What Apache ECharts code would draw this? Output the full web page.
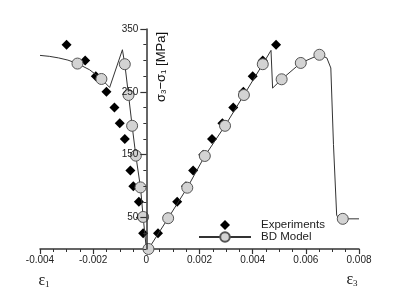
<!DOCTYPE html>
<html>
<head>
<meta charset="utf-8">
<script src="https://cdn.jsdelivr.net/npm/echarts@6/dist/echarts.min.js"></script>
<style>html,body{margin:0;padding:0;background:#fff}#c{width:399px;height:290px}</style>
</head>
<body>
<div id="c"></div>
<script>
// Experiments: stress levels, lateral strain (eps1, left branch) and axial strain (eps3, right branch)
const expStress = [325, 300, 275, 250, 225, 200, 175, 150, 125, 100, 75, 50, 25];
const expEps1 = [-0.0030, -0.0023, -0.0019, -0.0015, -0.0012, -0.0010, -0.00081, null, -0.00060, -0.00049, -0.00028, -0.00020, -0.00012];
const expEps3 = [0.00488, 0.00438, 0.00400, 0.00365, 0.00327, 0.00286, 0.00247, 0.00214, 0.00176, 0.00149, 0.00116, 0.00081, 0.00044];

// BD model curve (one polyline); modelMarker = 1 where a circle marker is drawn
const modelStrain = [-0.0040, -0.00365, -0.00330, -0.00295, -0.00259, -0.00213, -0.00169, -0.00138, -0.00090, -0.00081, -0.00067, -0.000535, -0.000395, -0.00022, -0.00012, 0.0, 0.00008, 0.00082, 0.00154, 0.00220, 0.00296, 0.00367, 0.00438, 0.00469, 0.00475, 0.00509, 0.00581, 0.00651, 0.00679, 0.00694, 0.00704, 0.00716, 0.00722, 0.00739, 0.0080];
const modelStress = [308, 306.5, 304, 300.5, 295, 285, 270.5, 257, 317, 294, 245, 196, 148.5, 98, 51, 0, 0, 49, 97.5, 148, 196, 245, 294, 316, 256, 270, 296, 309, 304, 288, 166, 54, 49, 48, 48];
const modelMarker = [0, 0, 0, 0, 1, 0, 1, 0, 0, 1, 1, 1, 1, 1, 1, 0, 1, 1, 1, 1, 1, 1, 1, 0, 0, 1, 1, 1, 0, 0, 0, 0, 0, 1, 0];

// Axis ticks
const xMin = -0.004, xMax = 0.008, xTickStep = 0.002;
const yMin = 0, yMax = 350;
const yLabelValues = [50, 150, 250, 350];
const yMinorValues = [0, 25, 50, 75, 100, 125, 150, 175, 200, 225, 250, 275, 300, 325, 350];

const expData = [];
expStress.forEach((s, i) => { if (expEps1[i] !== null) expData.push([expEps1[i], s]); });
expStress.forEach((s, i) => { if (expEps3[i] !== null) expData.push([expEps3[i], s]); });

const modelData = modelStrain.map((x, i) => modelMarker[i]
  ? { value: [x, modelStress[i]] }
  : { value: [x, modelStress[i]], symbol: 'none' });

// plot frame
const W = 399, H = 290, gl = 40, gr = 40, gt = 29, gb = 41;
const zeroX = gl + (0 - xMin) / (xMax - xMin) * (W - gl - gr);

const axisColor = '#333';
const labelFont = { fontFamily: 'Liberation Sans, Arial, sans-serif', fontSize: 10, color: '#222' };

const chart = echarts.init(document.getElementById('c'), null, { renderer: 'canvas' });
chart.setOption({
  animation: false,
  backgroundColor: '#fff',
  grid: [
    { left: gl, right: gr, top: gt, bottom: gb, containLabel: false },
    { left: zeroX, width: 10, top: gt, bottom: gb, containLabel: false }
  ],
  xAxis: [
    {
      gridIndex: 0, type: 'value', min: xMin, max: xMax, interval: xTickStep,
      axisLine: { show: true, onZero: false, lineStyle: { color: axisColor, width: 1.5 } },
      axisTick: { show: true, length: 5, lineStyle: { color: axisColor, width: 1.2 } },
      minorTick: { show: true, splitNumber: 4, length: 3, lineStyle: { color: axisColor, width: 1 } },
      splitLine: { show: false },
      axisLabel: Object.assign({ margin: 6, formatter: v => Math.abs(v) < 1e-12 ? '0' : v.toFixed(3) }, labelFont)
    },
    { gridIndex: 1, type: 'value', min: 0, max: 1, show: false }
  ],
  yAxis: [
    { gridIndex: 0, type: 'value', min: yMin, max: yMax, show: false },
    {
      gridIndex: 1, type: 'value', min: yMin, max: yMax, interval: 50, position: 'left', z: 10,
      axisLine: { show: true, onZero: false, lineStyle: { color: axisColor, width: 1.5 } },
      axisTick: { show: true, length: 6, customValues: yLabelValues, lineStyle: { color: axisColor, width: 1.2 } },
      splitLine: { show: false },
      axisLabel: Object.assign({ margin: 8, customValues: yLabelValues }, labelFont)
    },
    {
      gridIndex: 1, type: 'value', min: yMin, max: yMax, interval: 25, position: 'left', offset: 0, z: 10,
      axisLine: { show: false, onZero: false },
      axisTick: { show: true, length: 3, customValues: yMinorValues, lineStyle: { color: axisColor, width: 1 } },
      splitLine: { show: false },
      axisLabel: { show: false }
    }
  ],
  legend: {
    orient: 'vertical', left: 193, top: 214,
    itemWidth: 52, itemHeight: 12, itemGap: 0,
    textStyle: { fontFamily: 'Liberation Sans, Arial, sans-serif', fontSize: 11.5, color: '#222', padding: [0, 0, 0, 5] },
    data: [
      { name: 'Experiments', icon: 'path://M-26,-6 M26,6 M0,-5 L5,0 L0,5 L-5,0 Z' },
      { name: 'BD Model' }
    ]
  },
  series: [
    {
      name: 'Experiments', type: 'scatter', z: 2, xAxisIndex: 0, yAxisIndex: 0,
      symbol: 'diamond', symbolSize: 10,
      itemStyle: { color: '#000', opacity: 1 },
      data: expData
    },
    {
      name: 'BD Model', type: 'line', z: 3, xAxisIndex: 0, yAxisIndex: 0,
      symbol: 'circle', symbolSize: 11, showSymbol: true,
      lineStyle: { color: '#333', width: 1 },
      itemStyle: { color: '#d3d3d3', borderColor: '#555', borderWidth: 1, opacity: 1 },
      data: modelData
    }
  ],
  graphic: [
    {
      type: 'text', x: 160, y: 67, rotation: Math.PI / 2,
      style: {
        text: '{a|σ}{s|3}{a|−σ}{s|1}{a| [MPa]}',
        align: 'center', verticalAlign: 'middle',
        rich: {
          a: { fontFamily: 'Liberation Sans, Arial, sans-serif', fontSize: 13, fill: '#111', lineHeight: 16, verticalAlign: 'bottom' },
          s: { fontFamily: 'Liberation Sans, Arial, sans-serif', fontSize: 8, fill: '#111', lineHeight: 16, verticalAlign: 'bottom', padding: [6, 0, 0, 0] }
        }
      }
    },
    {
      type: 'text', x: 44, y: 280,
      style: {
        text: '{a|ε}{s|1}', align: 'center', verticalAlign: 'middle',
        rich: {
          a: { fontFamily: 'Liberation Serif, Times New Roman, serif', fontSize: 16, fill: '#111', lineHeight: 18, verticalAlign: 'bottom' },
          s: { fontFamily: 'Liberation Serif, Times New Roman, serif', fontSize: 9, fill: '#111', lineHeight: 18, verticalAlign: 'bottom', padding: [6, 0, 0, 0] }
        }
      }
    },
    {
      type: 'text', x: 352, y: 279,
      style: {
        text: '{a|ε}{s|3}', align: 'center', verticalAlign: 'middle',
        rich: {
          a: { fontFamily: 'Liberation Serif, Times New Roman, serif', fontSize: 16, fill: '#111', lineHeight: 18, verticalAlign: 'bottom' },
          s: { fontFamily: 'Liberation Serif, Times New Roman, serif', fontSize: 9, fill: '#111', lineHeight: 18, verticalAlign: 'bottom', padding: [6, 0, 0, 0] }
        }
      }
    }
  ]
});
</script>
</body>
</html>
